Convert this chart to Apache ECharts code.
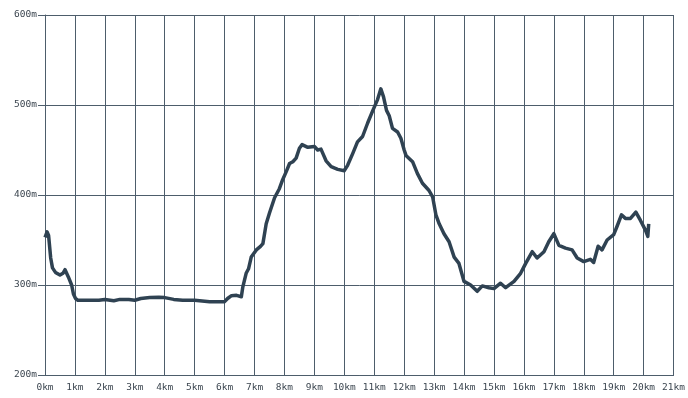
<!DOCTYPE html>
<html>
<head>
<meta charset="utf-8">
<script src="https://cdn.jsdelivr.net/npm/echarts@6/dist/echarts.min.js"></script>
<style>html,body{margin:0;padding:0;background:#fff;}#c{width:688px;height:398px;}</style>
</head>
<body>
<div id="c"></div>
<script>
const distanceKm = [0, 0.07, 0.12, 0.19, 0.25, 0.35, 0.5, 0.6, 0.67, 0.78, 0.89, 0.95, 1.02, 1.1, 1.5, 1.8, 2.0, 2.3, 2.5, 2.8, 3.0, 3.2, 3.5, 3.8, 4.0, 4.3, 4.6, 5.0, 5.5, 6.0, 6.1, 6.22, 6.4, 6.56, 6.61, 6.72, 6.8, 6.89, 7.06, 7.2, 7.28, 7.35, 7.39, 7.5, 7.67, 7.83, 7.94, 8.06, 8.17, 8.28, 8.39, 8.5, 8.59, 8.78, 9.0, 9.11, 9.22, 9.28, 9.39, 9.56, 9.78, 10.0, 10.11, 10.28, 10.44, 10.61, 10.78, 10.94, 11.11, 11.22, 11.31, 11.41, 11.5, 11.61, 11.78, 11.89, 12.0, 12.06, 12.28, 12.44, 12.61, 12.83, 12.95, 13.06, 13.17, 13.33, 13.5, 13.67, 13.83, 14.0, 14.22, 14.44, 14.61, 14.83, 15.0, 15.22, 15.39, 15.67, 15.89, 16.06, 16.28, 16.44, 16.67, 16.83, 17.0, 17.17, 17.39, 17.61, 17.78, 18.0, 18.22, 18.33, 18.48, 18.61, 18.78, 19.0, 19.11, 19.26, 19.39, 19.56, 19.74, 19.89, 20.06, 20.14, 20.17];
const elevationM = [353, 359, 355, 330, 319, 314, 311, 313, 317, 309, 300, 290, 285, 283, 283, 283, 284, 282.5, 284, 284, 283, 285, 286, 286.5, 286, 284, 283, 283, 281.5, 281.5, 285, 288, 288.5, 287, 298, 313, 318, 331, 339, 343, 346, 360, 368, 380, 397, 407, 417, 426, 435, 437, 441, 452, 456, 453, 454, 450, 451, 450, 438, 431.5, 428.5, 427, 433, 446, 459, 465, 480, 493, 506, 518, 509, 494, 488, 474, 470, 463, 450, 444, 437, 424, 413, 405, 398, 378, 368, 357, 348, 331, 324, 304, 300, 293, 299, 297, 296, 302, 297, 304, 313, 324, 337, 330, 337, 348, 357, 344, 341, 339, 330, 326, 328.5, 325, 343, 339, 350, 356, 365, 378, 374, 374, 381, 372, 361, 354, 368];
const xTicks = {min: 0, max: 21, step: 1, unit: 'km'};
const yTicks = {min: 200, max: 600, step: 100, unit: 'm'};

const gridColor = '#4d5d6b';
const labelStyle = {color: '#3c4650', fontFamily: 'DejaVu Sans Mono', fontSize: 9.5};
const chart = echarts.init(document.getElementById('c'), null, {renderer: 'canvas'});
chart.setOption({
  animation: false,
  backgroundColor: '#ffffff',
  grid: {left: 45, right: 13, top: 15, bottom: 23, containLabel: false},
  xAxis: {
    type: 'value', min: xTicks.min, max: xTicks.max, interval: xTicks.step,
    axisLine: {show: true, lineStyle: {color: gridColor, width: 1}},
    axisTick: {show: false},
    splitLine: {show: true, lineStyle: {color: gridColor, width: 1}},
    axisLabel: Object.assign({margin: 8, formatter: v => v + xTicks.unit}, labelStyle)
  },
  yAxis: {
    type: 'value', min: yTicks.min, max: yTicks.max, interval: yTicks.step,
    axisLine: {show: true, lineStyle: {color: gridColor, width: 1}},
    axisTick: {show: true, length: 7, lineStyle: {color: gridColor}},
    splitLine: {show: true, lineStyle: {color: gridColor, width: 1}},
    axisLabel: Object.assign({margin: 8, formatter: v => v + yTicks.unit}, labelStyle)
  },
  series: [{
    type: 'line',
    data: distanceKm.map((d, i) => [d, elevationM[i]]),
    showSymbol: false,
    lineStyle: {color: '#2f4252', width: 3.5, join: 'round'},
    silent: true
  }]
});
</script>
</body>
</html>
